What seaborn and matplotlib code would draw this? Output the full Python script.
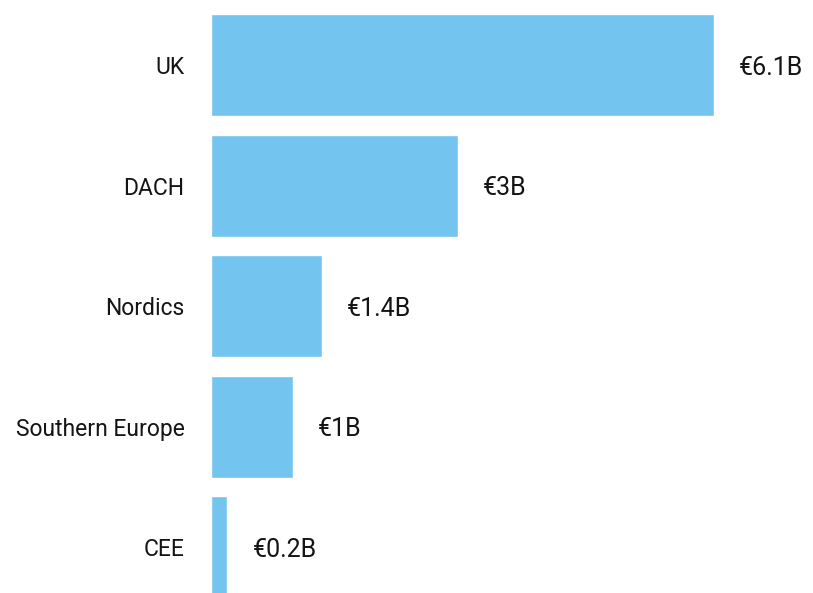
import matplotlib
matplotlib.use("Agg")
import matplotlib.pyplot as plt
import seaborn as sns
import pandas as pd

regions = ["UK", "DACH", "Nordics", "Southern Europe", "CEE"]
values = [6.1, 3.0, 1.35, 0.99, 0.2]
labels = ["€6.1B", "€3B", "€1.4B", "€1B", "€0.2B"]

sns.set_style("white")
plt.rcParams['font.family'] = ['Roboto', 'DejaVu Sans']

df = pd.DataFrame({"region": regions, "value": values})

fig = plt.figure(figsize=(8.13, 5.93), dpi=100)
ax = fig.add_axes([211/813, 0, (786-211)/813, 1])
sns.barplot(data=df, x="value", y="region", orient="h", color="#73C4EF",
            saturation=1, width=0.846, ax=ax)
ax.set_xlim(0, 6.98)
ax.set_ylim(4.378, -0.539)
for i, (v, lab) in enumerate(zip(values, labels)):
    ax.annotate(lab, xy=(v, i), xytext=(18, 0), textcoords="offset points",
                ha="left", va="center_baseline", fontsize=18,
                color="#141414")
ax.set_xlabel("")
ax.set_ylabel("")
ax.set_xticks([])
ax.tick_params(axis="y", length=0, pad=19, labelsize=16.5, labelcolor="#141414")
for s in ax.spines.values():
    s.set_visible(False)
fig.savefig("out.png", dpi=100)
